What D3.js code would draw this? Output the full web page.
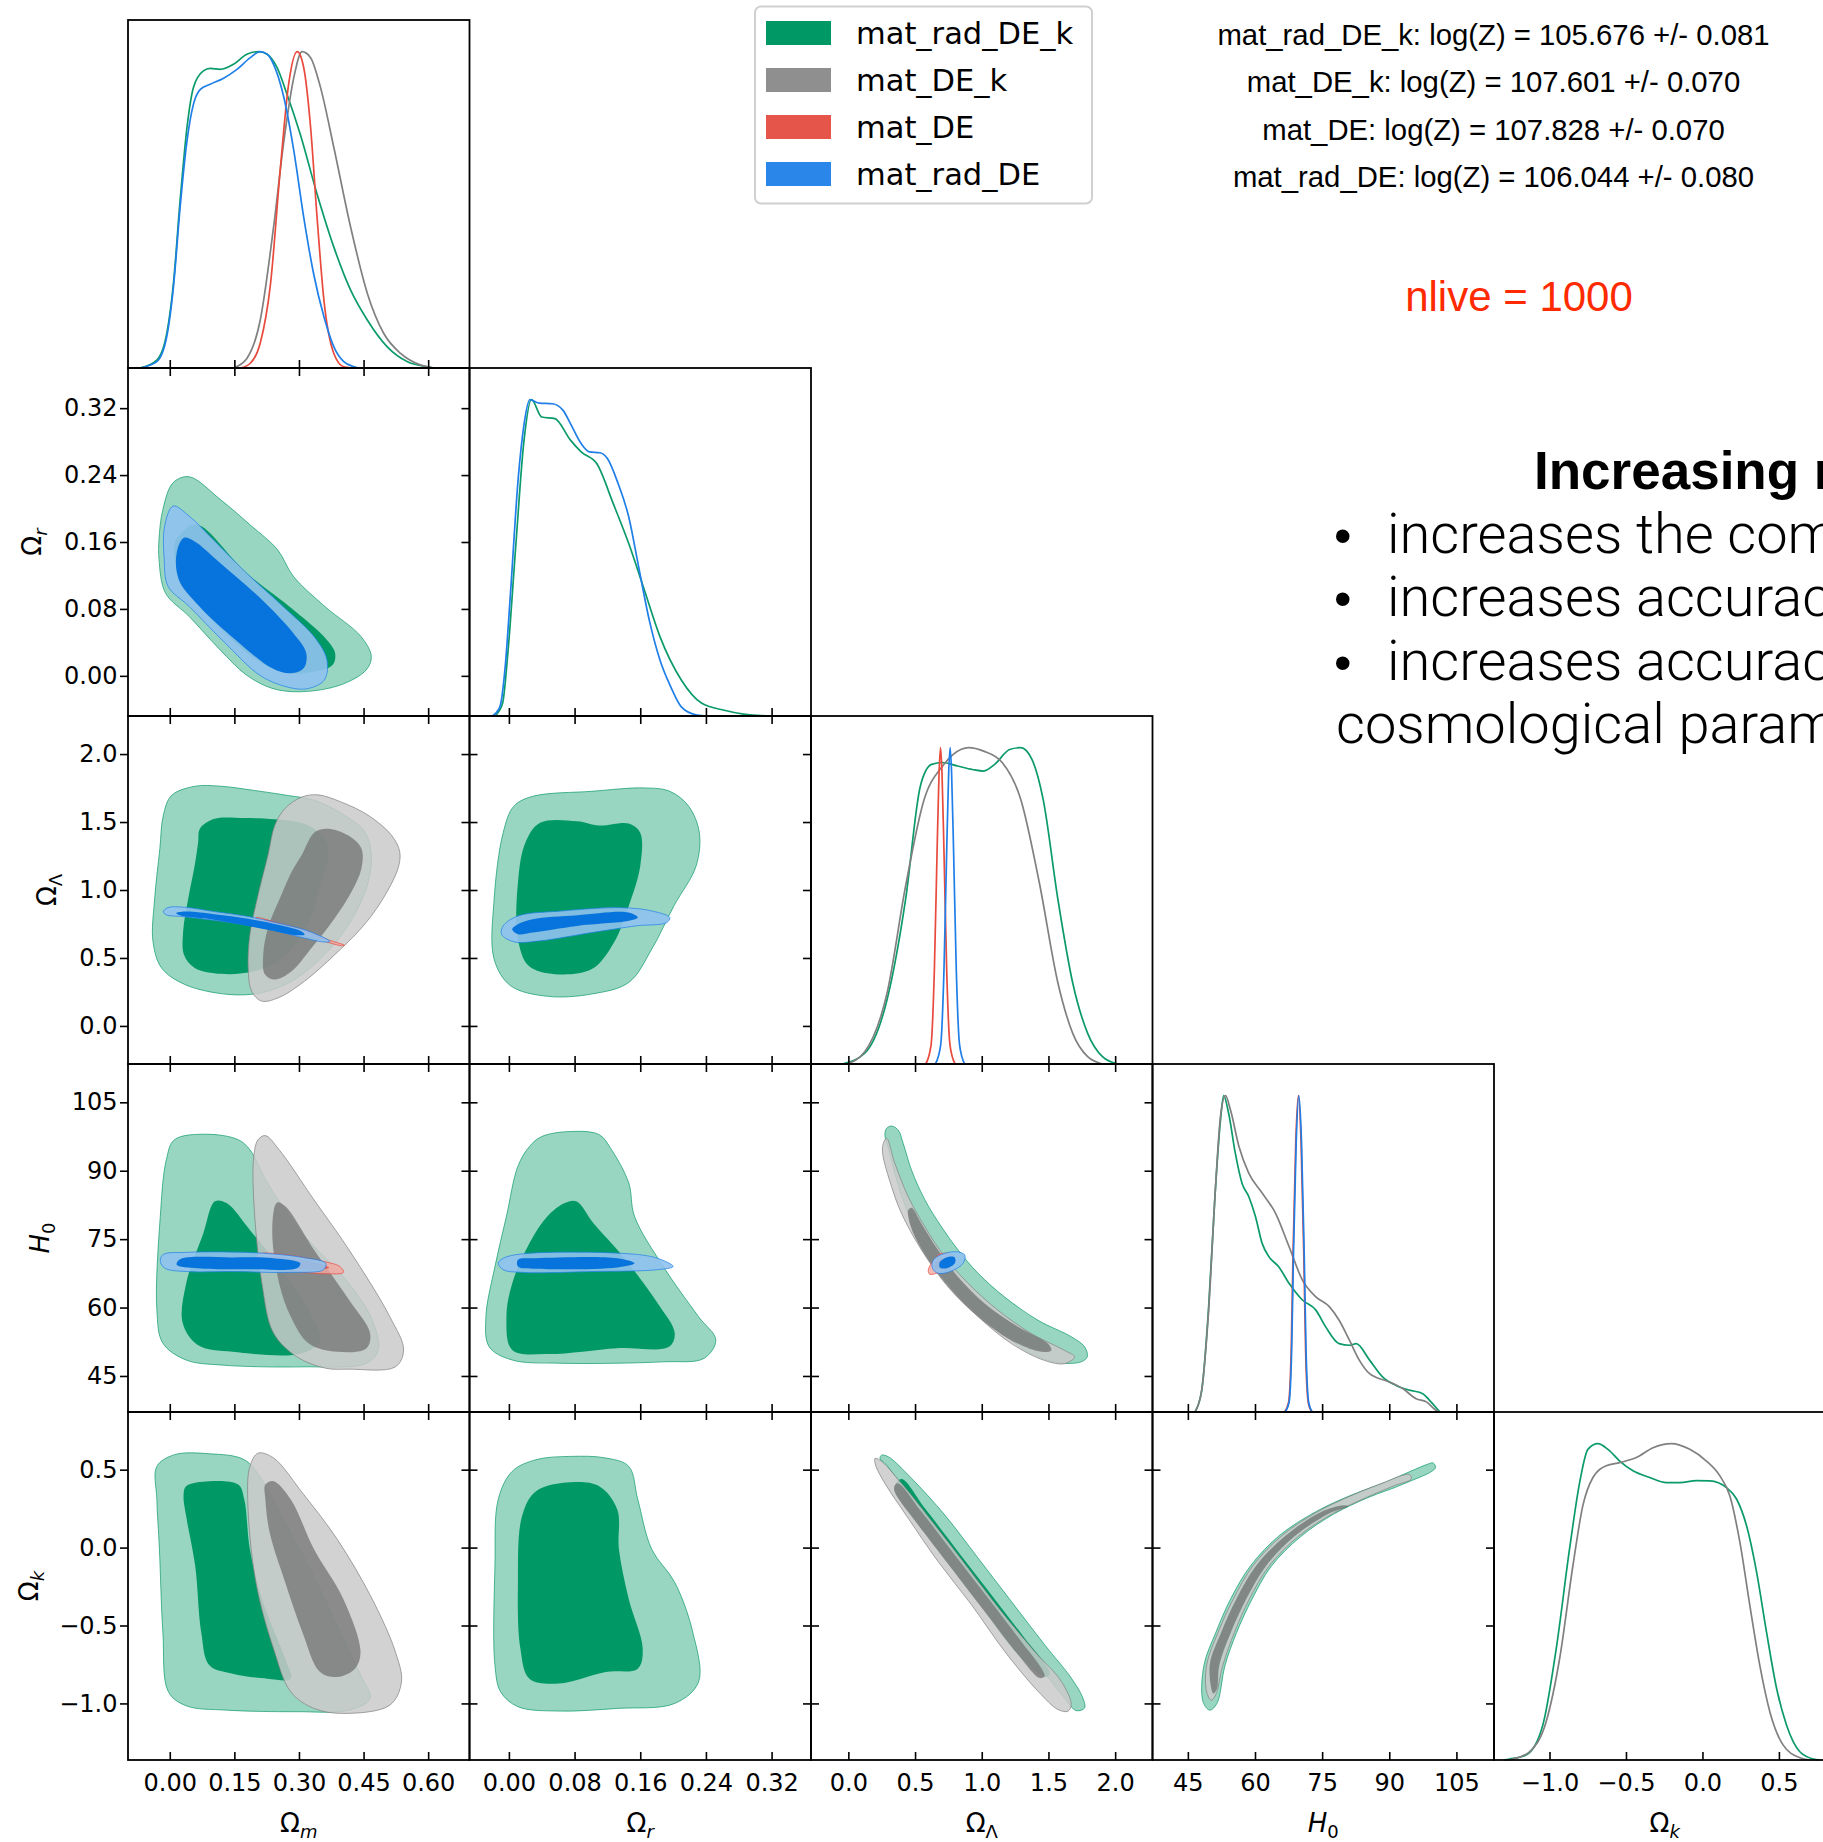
<!DOCTYPE html>
<html>
<head>
<meta charset="utf-8">
<script src="https://cdn.jsdelivr.net/npm/d3@7"></script>
<style>
  body { margin: 0; background: #fff; }
</style>
</head>
<body>
<div id="chart"></div>
<script>
// ---- parameters / axes ----
const paramDomains = [[-0.097, 0.696], [-0.048, 0.368], [-0.28, 2.28], [37.1, 113.4], [-1.363, 0.87]];
const paramTicks = [[0, 0.15, 0.30, 0.45, 0.60], [0, 0.08, 0.16, 0.24, 0.32], [0, 0.5, 1.0, 1.5, 2.0], [45, 60, 75, 90, 105], [-1.0, -0.5, 0.0, 0.5]];
const tickFormats = [".2f", ".2f", ".1f", "d", ".1f"];
const seriesNames = ["mat_rad_DE_k", "mat_DE_k", "mat_DE", "mat_rad_DE"];
const logZ = ["105.676", "107.601", "107.828", "106.044"];
const logZerr = ["0.081", "0.070", "0.070", "0.080"];

// ---- 1D marginals: [value, relative density] ----
const margOm_green = [[-0.069,0],[-0.030,0.025],[-0.007,0.109],[0.0085,0.267],[0.024,0.529],[0.040,0.761],[0.055,0.887],[0.078,0.939],[0.094,0.947],[0.117,0.944],[0.148,0.960],[0.179,0.992],[0.206,1.0],[0.226,0.992],[0.249,0.950],[0.272,0.866],[0.303,0.739],[0.342,0.550],[0.381,0.382],[0.420,0.246],[0.459,0.151],[0.505,0.067],[0.552,0.020],[0.598,0.004],[0.614,0]];
const margOm_gray = [[0.148,0],[0.179,0.030],[0.210,0.151],[0.241,0.445],[0.265,0.718],[0.288,0.918],[0.307,1.0],[0.327,0.981],[0.350,0.887],[0.381,0.697],[0.420,0.445],[0.459,0.235],[0.497,0.109],[0.536,0.046],[0.583,0.009],[0.614,0]];
const margOm_red = [[0.164,0],[0.187,0.015],[0.210,0.078],[0.234,0.267],[0.257,0.634],[0.276,0.897],[0.296,1.0],[0.311,0.950],[0.327,0.761],[0.342,0.477],[0.358,0.214],[0.381,0.046],[0.404,0.004],[0.428,0]];
const margOm_blue = [[-0.069,0],[-0.030,0.02],[-0.007,0.099],[0.0085,0.256],[0.024,0.508],[0.040,0.718],[0.055,0.834],[0.071,0.881],[0.094,0.897],[0.125,0.916],[0.156,0.944],[0.187,0.981],[0.210,1.0],[0.226,0.992],[0.241,0.960],[0.265,0.855],[0.288,0.687],[0.311,0.477],[0.334,0.298],[0.358,0.162],[0.381,0.067],[0.404,0.020],[0.428,0.004],[0.443,0]];

const margOr_green = [[-0.017,0],[-0.0077,0.04],[-0.0013,0.198],[0.0083,0.535],[0.018,0.861],[0.0275,1.0],[0.040,0.945],[0.056,0.940],[0.075,0.872],[0.088,0.835],[0.107,0.798],[0.127,0.672],[0.146,0.545],[0.165,0.398],[0.184,0.251],[0.210,0.114],[0.235,0.040],[0.261,0.019],[0.286,0.006],[0.318,0]];
const margOr_blue = [[-0.0204,0],[-0.011,0.029],[-0.0045,0.156],[0.0019,0.387],[0.0115,0.756],[0.018,0.914],[0.0256,1.0],[0.037,0.989],[0.053,0.987],[0.066,0.966],[0.075,0.924],[0.088,0.861],[0.098,0.835],[0.111,0.832],[0.120,0.814],[0.133,0.735],[0.146,0.629],[0.158,0.472],[0.171,0.303],[0.184,0.177],[0.197,0.093],[0.210,0.029],[0.229,0.003],[0.242,0]];

const margOL_green = [[-0.045,0],[0.123,0.034],[0.290,0.203],[0.429,0.520],[0.540,0.879],[0.624,0.947],[0.707,0.953],[0.819,0.942],[0.930,0.931],[1.014,0.926],[1.097,0.947],[1.209,0.994],[1.292,1.0],[1.376,0.963],[1.460,0.837],[1.571,0.520],[1.682,0.256],[1.794,0.097],[1.905,0.023],[2.017,0]];
const margOL_gray = [[-0.017,0],[0.123,0.039],[0.290,0.224],[0.429,0.562],[0.568,0.836],[0.707,0.942],[0.847,0.995],[0.902,1.0],[1.014,0.989],[1.153,0.953],[1.292,0.837],[1.432,0.572],[1.571,0.256],[1.682,0.097],[1.794,0.023],[1.905,0]];
const margOL_red = [[0.58,0],[0.62,0.06],[0.645,0.30],[0.665,0.67],[0.680,0.92],[0.691,1.0],[0.702,0.92],[0.717,0.67],[0.737,0.30],[0.762,0.06],[0.80,0]];
const margOL_blue = [[0.652,0],[0.692,0.06],[0.717,0.30],[0.737,0.67],[0.752,0.92],[0.763,1.0],[0.774,0.92],[0.789,0.67],[0.809,0.30],[0.834,0.06],[0.872,0]];

const margH0_green = [[46.6,0],[48.1,0.069],[49.6,0.322],[51.1,0.692],[52.3,0.924],[53.0,1.0],[54.1,0.945],[55.6,0.818],[57.1,0.723],[58.6,0.681],[60.1,0.618],[61.6,0.533],[63.1,0.491],[65.3,0.459],[67.6,0.407],[70.6,0.354],[73.6,0.322],[75.8,0.269],[78.8,0.216],[81.1,0.211],[82.6,0.216],[85.6,0.164],[88.5,0.111],[91.5,0.084],[94.5,0.069],[97.5,0.058],[99.0,0.037],[101.3,0]];
const margH0_gray = [[46.6,0],[48.1,0.069],[49.6,0.312],[51.1,0.692],[52.3,0.935],[53.4,1.0],[54.5,0.956],[56.4,0.840],[58.6,0.755],[61.6,0.692],[64.6,0.628],[67.6,0.523],[70.6,0.417],[73.6,0.364],[76.6,0.333],[78.8,0.290],[81.1,0.227],[83.3,0.164],[85.6,0.121],[90.0,0.095],[93.0,0.074],[96.0,0.042],[98.3,0.032],[100.5,0.005],[101.3,0]];
const margH0_red = [[66.6,0],[67.5,0.03],[68.1,0.2],[68.5,0.5],[69.1,0.85],[69.7,1.0],[70.3,0.85],[70.9,0.5],[71.3,0.2],[71.9,0.03],[72.7,0]];
const margH0_blue = [[66.7,0],[67.6,0.03],[68.2,0.2],[68.6,0.5],[69.2,0.85],[69.8,1.0],[70.4,0.85],[71.0,0.5],[71.4,0.2],[72.0,0.03],[72.8,0]];

const margOk_green = [[-1.30,0],[-1.262,0.003],[-1.153,0.016],[-1.044,0.110],[-0.956,0.352],[-0.869,0.667],[-0.803,0.877],[-0.749,0.982],[-0.683,1.0],[-0.618,0.982],[-0.541,0.945],[-0.454,0.914],[-0.345,0.893],[-0.236,0.877],[-0.148,0.877],[-0.039,0.883],[0.048,0.882],[0.157,0.861],[0.223,0.825],[0.288,0.741],[0.354,0.594],[0.419,0.404],[0.485,0.226],[0.550,0.110],[0.637,0.026],[0.725,0.003],[0.768,0]];
const margOk_gray = [[-1.28,0],[-1.240,0.003],[-1.131,0.026],[-1.022,0.121],[-0.934,0.320],[-0.847,0.614],[-0.782,0.804],[-0.716,0.893],[-0.629,0.930],[-0.541,0.940],[-0.432,0.956],[-0.323,0.987],[-0.203,1.0],[-0.083,0.982],[0.026,0.945],[0.114,0.898],[0.179,0.835],[0.245,0.688],[0.310,0.488],[0.375,0.299],[0.441,0.152],[0.528,0.047],[0.637,0.007],[0.703,0]];

// ---- 2D contours: [x value, y value], 95% (outer) and 68% (inner) ----
// Om vs Or
const cOmOr_g95 = [[0.045,0.238],[0.117,0.211],[0.19,0.179],[0.25,0.151],[0.287,0.119],[0.36,0.083],[0.444,0.047],[0.468,0.023],[0.456,0.007],[0.396,-0.011],[0.305,-0.019],[0.238,-0.015],[0.178,0.001],[0.117,0.031],[0.045,0.071],[-0.01,0.099],[-0.025,0.139],[-0.025,0.163],[-0.016,0.199],[0.008,0.231]];
const cOmOr_g68 = [[0.027,0.171],[0.063,0.181],[0.178,0.123],[0.287,0.079],[0.365,0.043],[0.384,0.027],[0.378,0.013],[0.335,0.005],[0.275,0.003],[0.214,0.015],[0.129,0.051],[0.057,0.091],[0.015,0.131],[0.012,0.159]];
const cOmOr_b95 = [[0.008,0.203],[0.045,0.191],[0.093,0.167],[0.178,0.123],[0.263,0.083],[0.335,0.047],[0.365,0.019],[0.359,-0.005],[0.323,-0.015],[0.287,-0.015],[0.214,-0.001],[0.129,0.039],[0.045,0.083],[-0.004,0.107],[-0.013,0.139],[-0.012,0.179]];
const cOmOr_b68 = [[0.033,0.165],[0.057,0.161],[0.117,0.135],[0.214,0.091],[0.287,0.051],[0.317,0.027],[0.311,0.009],[0.281,0.003],[0.238,0.009],[0.153,0.043],[0.069,0.083],[0.021,0.115],[0.016,0.147]];
// Om vs OL
const cOmOL_g95 = [[-0.015,1.549],[0.004,1.695],[0.058,1.763],[0.120,1.763],[0.197,1.732],[0.275,1.695],[0.337,1.659],[0.406,1.549],[0.453,1.427],[0.468,1.256],[0.461,1.061],[0.437,0.866],[0.399,0.671],[0.344,0.476],[0.283,0.329],[0.213,0.244],[0.135,0.232],[0.035,0.305],[-0.019,0.427],[-0.039,0.622],[-0.035,0.939],[-0.023,1.305]];
const cOmOL_g68 = [[0.070,1.451],[0.104,1.524],[0.174,1.529],[0.244,1.520],[0.321,1.476],[0.364,1.354],[0.368,1.232],[0.352,1.061],[0.329,0.817],[0.298,0.622],[0.252,0.476],[0.197,0.402],[0.120,0.383],[0.058,0.427],[0.033,0.524],[0.031,0.695],[0.043,0.939],[0.058,1.183],[0.066,1.354]];
const cOmOL_k95 = [[0.267,1.598],[0.306,1.683],[0.344,1.700],[0.399,1.646],[0.461,1.549],[0.515,1.402],[0.534,1.281],[0.530,1.159],[0.491,0.915],[0.445,0.720],[0.383,0.524],[0.313,0.329],[0.252,0.207],[0.213,0.183],[0.190,0.256],[0.182,0.427],[0.186,0.671],[0.205,0.963],[0.228,1.256],[0.244,1.476]];
const cOmOL_k68 = [[0.306,1.256],[0.337,1.427],[0.368,1.451],[0.414,1.402],[0.445,1.305],[0.445,1.159],[0.422,0.988],[0.383,0.793],[0.329,0.573],[0.283,0.402],[0.244,0.341],[0.221,0.378],[0.217,0.524],[0.228,0.720],[0.259,0.963],[0.283,1.134]];
const cOmOL_r95 = [[0.201,0.798],[0.252,0.756],[0.321,0.695],[0.368,0.634],[0.406,0.593],[0.399,0.590],[0.360,0.622],[0.306,0.680],[0.244,0.740],[0.201,0.788]];
const cOmOL_r68 = [[0.22,0.785],[0.28,0.73],[0.33,0.68],[0.36,0.645],[0.355,0.64],[0.32,0.675],[0.27,0.728],[0.22,0.78]];
const cOmOL_b95 = [[-0.015,0.841],[-0.004,0.871],[0.035,0.873],[0.104,0.841],[0.182,0.805],[0.252,0.756],[0.313,0.707],[0.360,0.646],[0.372,0.622],[0.360,0.617],[0.313,0.646],[0.252,0.695],[0.174,0.744],[0.097,0.780],[0.027,0.805],[-0.008,0.817]];
const cOmOL_b68 = [[0.015,0.829],[0.035,0.841],[0.104,0.822],[0.182,0.788],[0.252,0.744],[0.306,0.695],[0.313,0.671],[0.283,0.671],[0.228,0.707],[0.159,0.749],[0.089,0.788],[0.027,0.810]];
// Or vs OL
const cOrOL_g95 = [[0.029,1.689],[0.101,1.726],[0.165,1.751],[0.196,1.726],[0.219,1.616],[0.232,1.421],[0.228,1.176],[0.201,0.883],[0.174,0.565],[0.146,0.320],[0.101,0.235],[0.047,0.218],[0.002,0.296],[-0.018,0.491],[-0.018,0.932],[-0.007,1.421],[0.006,1.616]];
const cOrOL_g68 = [[0.038,1.494],[0.083,1.506],[0.110,1.474],[0.146,1.489],[0.160,1.421],[0.160,1.176],[0.146,0.883],[0.128,0.614],[0.101,0.418],[0.056,0.381],[0.024,0.443],[0.011,0.638],[0.011,1.054],[0.020,1.347]];
const cOrOL_b95 = [[-0.007,0.736],[0.011,0.809],[0.065,0.846],[0.137,0.870],[0.174,0.846],[0.196,0.797],[0.192,0.760],[0.155,0.736],[0.101,0.687],[0.038,0.626],[0.006,0.619],[-0.009,0.675]];
const cOrOL_b68 = [[0.011,0.748],[0.029,0.785],[0.083,0.814],[0.146,0.834],[0.157,0.797],[0.146,0.773],[0.083,0.736],[0.029,0.687],[0.011,0.675],[0.004,0.711]];
// Om vs H0
const cOmH0_g95 = [[0.011,96.8],[0.086,98.0],[0.159,96.8],[0.186,94.6],[0.227,87.3],[0.308,76.3],[0.416,65.3],[0.470,57.3],[0.484,50.7],[0.457,47.8],[0.308,47.0],[0.119,47.4],[0.038,48.5],[-0.016,52.2],[-0.030,59.5],[-0.022,80.0],[-0.008,92.4]];
const cOmH0_g68 = [[0.105,83.3],[0.132,82.9],[0.186,77.0],[0.254,69.0],[0.322,59.5],[0.349,52.9],[0.308,50.0],[0.146,50.3],[0.065,51.8],[0.030,56.6],[0.038,65.3],[0.078,76.3]];
const cOmH0_k95 = [[0.205,96.8],[0.222,97.7],[0.254,94.6],[0.335,83.6],[0.416,72.7],[0.511,58.0],[0.543,50.7],[0.524,47.0],[0.416,46.5],[0.362,46.7],[0.295,49.2],[0.241,54.4],[0.214,65.3],[0.195,83.6],[0.195,93.1]];
const cOmH0_k68 = [[0.249,83.0],[0.268,82.2],[0.335,72.7],[0.416,61.7],[0.465,54.4],[0.457,51.1],[0.389,50.3],[0.322,52.2],[0.281,58.0],[0.254,65.3],[0.238,77.0]];
const cOmH0_r95 = [[0.205,71.7],[0.268,71.6],[0.335,70.5],[0.395,69.0],[0.403,67.7],[0.362,67.4],[0.295,67.9],[0.227,69.0],[0.200,70.5]];
const cOmH0_r68 = [[0.23,71.0],[0.28,70.8],[0.34,69.8],[0.37,68.7],[0.34,68.3],[0.28,68.6],[0.23,69.6]];
const cOmH0_b95 = [[-0.016,71.6],[0.038,72.1],[0.200,72.0],[0.308,71.0],[0.362,69.7],[0.357,68.3],[0.281,67.7],[0.146,67.9],[0.038,67.9],[-0.011,68.6],[-0.022,70.1]];
const cOmH0_b68 = [[0.024,70.6],[0.146,71.0],[0.241,70.8],[0.303,69.7],[0.295,68.6],[0.200,68.4],[0.065,68.6],[0.016,69.4]];
// Or vs H0
const cOrH0_g95 = [[0.040,97.5],[0.075,98.6],[0.110,97.9],[0.125,94.6],[0.146,87.3],[0.153,80.0],[0.188,69.0],[0.231,58.0],[0.252,52.9],[0.238,48.9],[0.188,48.1],[0.061,47.8],[0.004,48.5],[-0.024,51.4],[-0.028,58.0],[-0.017,69.0],[-0.003,80.0],[0.011,91.0],[0.025,95.3]];
const cOrH0_g68 = [[0.068,82.9],[0.082,83.3],[0.103,78.5],[0.139,71.2],[0.181,61.0],[0.202,54.4],[0.195,51.4],[0.132,51.1],[0.047,49.8],[0.004,50.7],[-0.003,58.0],[0.004,65.3],[0.025,74.1],[0.047,80.0]];
const cOrH0_b95 = [[-0.007,70.8],[0.018,71.8],[0.146,71.8],[0.181,70.8],[0.200,69.0],[0.181,68.3],[0.103,67.9],[0.018,67.7],[-0.007,68.3],[-0.013,69.7]];
const cOrH0_b68 = [[0.011,70.5],[0.033,70.8],[0.132,70.8],[0.153,69.7],[0.132,68.8],[0.033,68.5],[0.011,69.0]];
// OL vs H0
const cOLH0_g95 = [[0.287,99.3],[0.324,99.8],[0.374,98.9],[0.411,96.0],[0.474,90.1],[0.574,83.6],[0.698,77.7],[0.823,72.6],[0.973,67.5],[1.172,62.3],[1.422,57.2],[1.671,53.6],[1.771,51.4],[1.791,49.2],[1.746,48.1],[1.571,47.9],[1.372,49.9],[1.122,55.0],[0.898,60.9],[0.723,66.7],[0.574,73.3],[0.449,80.6],[0.362,88.0],[0.304,94.5],[0.274,97.8]];
const cOLH0_g68 = [[0.458,81.0],[0.478,81.4],[0.551,78.0],[0.675,72.3],[0.823,66.4],[1.020,60.7],[1.268,55.7],[1.485,52.2],[1.505,51.0],[1.445,50.7],[1.222,53.1],[0.975,58.3],[0.776,64.1],[0.603,70.6],[0.504,75.6],[0.462,79.0]];
const cOLH0_k95 = [[0.262,96.0],[0.287,97.1],[0.349,91.6],[0.449,84.3],[0.574,77.7],[0.723,71.1],[0.898,65.3],[1.122,59.4],[1.372,54.3],[1.621,50.6],[1.696,49.2],[1.621,47.7],[1.471,48.4],[1.222,52.1],[0.973,58.0],[0.748,64.5],[0.549,72.6],[0.399,80.6],[0.324,86.5],[0.257,93.8]];
const cOLH0_k68 = [[0.449,81.4],[0.474,81.9],[0.549,78.4],[0.673,72.6],[0.823,66.7],[1.022,60.9],[1.272,55.8],[1.496,52.1],[1.521,50.6],[1.446,50.3],[1.222,52.8],[0.973,58.0],[0.773,63.8],[0.599,70.4],[0.499,75.5],[0.454,79.2]];
const cOLH0_r95 = [[0.599,68.2],[0.673,71.5],[0.748,71.9],[0.798,71.1],[0.773,69.3],[0.686,67.8],[0.611,67.3]];
const cOLH0_r68 = [[0.64,69.0],[0.69,70.8],[0.75,71.0],[0.76,70.2],[0.70,68.6],[0.65,68.3]];
const cOLH0_b95 = [[0.636,70.4],[0.723,71.9],[0.823,72.2],[0.873,71.5],[0.860,69.7],[0.773,68.0],[0.673,67.5],[0.631,68.6]];
const cOLH0_b68 = [[0.686,70.0],[0.748,71.1],[0.798,71.0],[0.798,69.7],[0.736,68.6],[0.686,68.8]];
// Om vs Ok
const cOmOk_g95 = [[-0.030,0.521],[0.011,0.596],[0.092,0.602],[0.173,0.564],[0.214,0.436],[0.268,0.160],[0.322,-0.117],[0.389,-0.500],[0.443,-0.819],[0.465,-0.968],[0.416,-1.043],[0.295,-1.053],[0.132,-1.043],[0.038,-1.015],[-0.003,-0.926],[-0.016,-0.543],[-0.024,-0.011],[-0.030,0.309]];
const cOmOk_g68 = [[0.038,0.394],[0.092,0.426],[0.159,0.404],[0.173,0.309],[0.186,-0.011],[0.214,-0.330],[0.268,-0.713],[0.281,-0.841],[0.227,-0.841],[0.146,-0.809],[0.092,-0.755],[0.073,-0.543],[0.059,-0.117],[0.038,0.202],[0.032,0.330]];
const cOmOk_k95 = [[0.186,0.521],[0.205,0.606],[0.241,0.575],[0.308,0.351],[0.389,0.053],[0.470,-0.330],[0.524,-0.670],[0.538,-0.862],[0.511,-1.011],[0.403,-1.064],[0.335,-1.032],[0.281,-0.926],[0.241,-0.649],[0.200,-0.223],[0.181,0.309]];
const cOmOk_k68 = [[0.222,0.404],[0.241,0.426],[0.281,0.309],[0.335,-0.011],[0.403,-0.330],[0.443,-0.670],[0.430,-0.777],[0.389,-0.830],[0.349,-0.798],[0.308,-0.543],[0.268,-0.223],[0.232,0.096],[0.222,0.309]];
// Or vs Ok
const cOrOk_g95 = [[0.004,0.489],[0.033,0.564],[0.075,0.585],[0.118,0.575],[0.146,0.521],[0.157,0.309],[0.174,-0.011],[0.202,-0.223],[0.224,-0.543],[0.231,-0.862],[0.202,-1.000],[0.132,-1.032],[0.061,-1.049],[0.011,-1.021],[-0.010,-0.926],[-0.017,-0.755],[-0.017,-0.117],[-0.013,0.309]];
const cOrOk_g68 = [[0.033,0.362],[0.075,0.419],[0.110,0.394],[0.132,0.245],[0.134,-0.011],[0.146,-0.330],[0.163,-0.649],[0.157,-0.777],[0.118,-0.798],[0.061,-0.872],[0.025,-0.841],[0.014,-0.649],[0.011,-0.223],[0.016,0.202]];
// OL vs Ok
const cOLOk_g95 = [[0.249,0.593],[0.299,0.583],[0.474,0.444],[0.723,0.209],[0.973,-0.068],[1.222,-0.346],[1.471,-0.623],[1.671,-0.837],[1.758,-0.965],[1.771,-1.029],[1.708,-1.046],[1.621,-0.965],[1.422,-0.751],[1.172,-0.474],[0.923,-0.196],[0.673,0.081],[0.449,0.337],[0.287,0.529],[0.237,0.572]];
const cOLOk_g68 = [[0.352,0.405],[0.40,0.44],[0.574,0.252],[0.823,-0.026],[1.072,-0.303],[1.322,-0.581],[1.496,-0.773],[1.508,-0.815],[1.471,-0.83],[1.272,-0.687],[1.022,-0.410],[0.773,-0.132],[0.524,0.145],[0.374,0.316],[0.344,0.369]];
const cOLOk_k95 = [[0.200,0.572],[0.237,0.561],[0.399,0.412],[0.648,0.145],[0.898,-0.132],[1.147,-0.410],[1.396,-0.666],[1.596,-0.858],[1.671,-1.007],[1.646,-1.050],[1.571,-1.039],[1.422,-0.922],[1.172,-0.666],[0.923,-0.367],[0.673,-0.090],[0.449,0.188],[0.274,0.412],[0.204,0.529]];
const cOLOk_k68 = [[0.349,0.401],[0.374,0.412],[0.549,0.230],[0.798,-0.047],[1.047,-0.324],[1.296,-0.602],[1.446,-0.773],[1.471,-0.826],[1.434,-0.837],[1.272,-0.687],[1.022,-0.410],[0.773,-0.132],[0.524,0.145],[0.374,0.316],[0.344,0.369]];
// H0 vs Ok (thin curved band)
const cH0Ok_g95 = [[49.9,-1.043],[48.4,-0.990],[48.6,-0.754],[51.3,-0.541],[54.6,-0.327],[59.1,-0.113],[65.6,0.081],[73.7,0.232],[81.7,0.339],[89.5,0.424],[98.5,0.534],[99.8,0.543],[100.3,0.511],[93.0,0.406],[85.2,0.320],[77.6,0.215],[70.1,0.068],[63.6,-0.121],[59.3,-0.333],[55.9,-0.545],[53.3,-0.757],[51.5,-1.000]];
const cH0Ok_g68 = [[50.7,-0.940],[49.8,-0.755],[52.4,-0.542],[55.8,-0.327],[60.2,-0.115],[66.8,0.078],[74.6,0.228],[79.5,0.272],[80.9,0.267],[76.7,0.219],[68.9,0.071],[62.5,-0.120],[58.1,-0.332],[54.7,-0.545],[52.1,-0.757],[51.6,-0.906]];
const cH0Ok_k95 = [[50.2,-0.979],[49.2,-0.926],[49.2,-0.754],[51.8,-0.541],[55.2,-0.328],[59.6,-0.114],[66.1,0.079],[74.0,0.230],[81.9,0.338],[88.6,0.415],[93.3,0.466],[94.6,0.468],[94.9,0.440],[91.2,0.398],[84.9,0.322],[77.3,0.217],[69.6,0.070],[63.1,-0.120],[58.7,-0.332],[55.4,-0.544],[52.8,-0.757],[51.2,-0.947]];
const cH0Ok_k68 = [[50.7,-0.936],[49.9,-0.755],[52.5,-0.542],[55.9,-0.327],[60.3,-0.115],[66.9,0.077],[74.7,0.227],[79.5,0.270],[80.8,0.266],[76.6,0.220],[68.8,0.072],[62.4,-0.119],[58.0,-0.332],[54.6,-0.544],[52.0,-0.756],[51.5,-0.904]];

// ---- which array goes where (param index, series index) ----
const marginals = [
  [0, 0, margOm_green], [0, 1, margOm_gray], [0, 2, margOm_red], [0, 3, margOm_blue],
  [1, 0, margOr_green], [1, 3, margOr_blue],
  [2, 0, margOL_green], [2, 1, margOL_gray], [2, 2, margOL_red], [2, 3, margOL_blue],
  [3, 0, margH0_green], [3, 1, margH0_gray], [3, 2, margH0_red], [3, 3, margH0_blue],
  [4, 0, margOk_green], [4, 1, margOk_gray]
];
// [x param, y param, series, 95% contour, 68% contour]
const contours = [
  [0, 1, 0, cOmOr_g95, cOmOr_g68], [0, 1, 3, cOmOr_b95, cOmOr_b68],
  [0, 2, 0, cOmOL_g95, cOmOL_g68], [0, 2, 1, cOmOL_k95, cOmOL_k68], [0, 2, 2, cOmOL_r95, cOmOL_r68], [0, 2, 3, cOmOL_b95, cOmOL_b68],
  [1, 2, 0, cOrOL_g95, cOrOL_g68], [1, 2, 3, cOrOL_b95, cOrOL_b68],
  [0, 3, 0, cOmH0_g95, cOmH0_g68], [0, 3, 1, cOmH0_k95, cOmH0_k68], [0, 3, 2, cOmH0_r95, cOmH0_r68], [0, 3, 3, cOmH0_b95, cOmH0_b68],
  [1, 3, 0, cOrH0_g95, cOrH0_g68], [1, 3, 3, cOrH0_b95, cOrH0_b68],
  [2, 3, 0, cOLH0_g95, cOLH0_g68], [2, 3, 1, cOLH0_k95, cOLH0_k68], [2, 3, 2, cOLH0_r95, cOLH0_r68], [2, 3, 3, cOLH0_b95, cOLH0_b68],
  [0, 4, 0, cOmOk_g95, cOmOk_g68], [0, 4, 1, cOmOk_k95, cOmOk_k68],
  [1, 4, 0, cOrOk_g95, cOrOk_g68],
  [2, 4, 0, cOLOk_g95, cOLOk_g68], [2, 4, 1, cOLOk_k95, cOLOk_k68],
  [3, 4, 0, cH0Ok_g95, cH0Ok_g68], [3, 4, 1, cH0Ok_k95, cH0Ok_k68]
];

// ---- styles ----
const lineColors = ["#0b9a6a", "#808080", "#e84a3c", "#1f7fe8"];
const swatchColors = ["#009966", "#8f8f8f", "#e6554a", "#2b86ea"];
const fill95 = ["rgb(153,214,194)", "rgba(202,202,202,0.85)", "rgba(242,168,160,0.8)", "rgba(144,194,238,0.9)"];
const fill68 = ["rgb(0,153,102)", "rgba(115,115,115,0.75)", "rgba(230,85,74,0.9)", "rgba(0,112,220,0.95)"];
const yTitleX = [0, 41, 56, 49, 38];

const W = 341.5, H = 348, X0 = 128, Y0 = 20;

const svg = d3.select("#chart").append("svg")
  .attr("width", 1823).attr("height", 1842)
  .style("font-family", "DejaVu Sans");
svg.append("rect").attr("width", 1823).attr("height", 1842).attr("fill", "#fff");

const xS = paramDomains.map((d, i) => d3.scaleLinear().domain(d).range([X0 + i * W, X0 + (i + 1) * W]));
const yS = paramDomains.map((d, j) => d3.scaleLinear().domain(d).range([Y0 + (j + 1) * H, Y0 + j * H]));
const yM = paramDomains.map((d, j) => d3.scaleLinear().domain([0, 1.1]).range([Y0 + (j + 1) * H, Y0 + j * H]));

// filled contours
const plotG = svg.append("g");
contours.forEach(([xi, yi, s, c95, c68]) => {
  const line = d3.line().x(d => xS[xi](d[0])).y(d => yS[yi](d[1])).curve(d3.curveCatmullRomClosed.alpha(0.5));
  plotG.append("path").attr("d", line(c95))
    .attr("fill", fill95[s]).attr("stroke", lineColors[s]).attr("stroke-width", 1).attr("stroke-opacity", 0.7);
  plotG.append("path").attr("d", line(c68))
    .attr("fill", fill68[s]).attr("stroke", "none");
});

// marginal lines
marginals.forEach(([p, s, pts]) => {
  const line = d3.line().x(d => xS[p](d[0])).y(d => yM[p](d[1])).curve(d3.curveMonotoneX);
  plotG.append("path").attr("d", line(pts))
    .attr("fill", "none").attr("stroke", lineColors[s]).attr("stroke-width", 1.7);
});

// ticks
function drawAxis(axis, tx, ty) {
  const g = svg.append("g").attr("transform", `translate(${tx},${ty})`).call(axis)
    .attr("font-size", 24).attr("font-family", "DejaVu Sans");
  g.select(".domain").remove();
  g.selectAll(".tick line").attr("stroke", "#000").attr("stroke-width", 1.6);
  g.selectAll(".tick text").attr("fill", "#000");
  return g;
}
for (let j = 0; j < 5; j++) {
  for (let i = 0; i <= j; i++) {
    const left = X0 + i * W, right = left + W, top = Y0 + j * H, bottom = top + H;
    const fx = j === 4 ? d3.format(tickFormats[i]) : () => "";
    drawAxis(d3.axisBottom(xS[i]).tickValues(paramTicks[i]).tickSizeInner(-8).tickSizeOuter(0).tickPadding(14).tickFormat(fx), 0, bottom);
    if (i < j) {
      drawAxis(d3.axisTop(xS[i]).tickValues(paramTicks[i]).tickSizeInner(-8).tickSizeOuter(0).tickFormat(() => ""), 0, top);
      drawAxis(d3.axisRight(yS[j]).tickValues(paramTicks[j]).tickSizeInner(-8).tickSizeOuter(0).tickFormat(() => ""), right, 0);
      if (i === 0) {
        drawAxis(d3.axisLeft(yS[j]).tickValues(paramTicks[j]).tickSizeInner(8).tickSizeOuter(0).tickPadding(2.5).tickFormat(d3.format(tickFormats[j])), left, 0);
      } else {
        drawAxis(d3.axisLeft(yS[j]).tickValues(paramTicks[j]).tickSizeInner(-8).tickSizeOuter(0).tickFormat(() => ""), left, 0);
      }
    }
    svg.append("rect").attr("x", left).attr("y", top).attr("width", W).attr("height", H)
      .attr("fill", "none").attr("stroke", "#000").attr("stroke-width", 1.8);
  }
}

// axis titles
const axisTitles = [["Ω", "m", true, false], ["Ω", "r", true, false], ["Ω", "Λ", false, false], ["H", "0", false, true], ["Ω", "k", true, false]];
function writeTitle(t, [main, sub, subItalic, mainItalic]) {
  t.append("tspan").text(main).attr("font-style", mainItalic ? "italic" : "normal");
  t.append("tspan").text(sub).attr("font-size", 18).attr("dy", 6)
    .attr("font-style", subItalic ? "italic" : "normal");
}
axisTitles.forEach((a, i) => {
  const t = svg.append("text").attr("x", X0 + i * W + W / 2).attr("y", 1832)
    .attr("text-anchor", "middle").attr("font-size", 26).attr("fill", "#000");
  writeTitle(t, a);
  if (i > 0) {
    const cy = Y0 + i * H + H / 2;
    const tl = svg.append("text").attr("transform", `translate(${yTitleX[i]},${cy}) rotate(-90)`)
      .attr("text-anchor", "middle").attr("font-size", 26).attr("fill", "#000");
    writeTitle(tl, a);
  }
});

// legend
const leg = svg.append("g");
leg.append("rect").attr("x", 755).attr("y", 6.5).attr("width", 337).attr("height", 197).attr("rx", 6)
  .attr("fill", "#fff").attr("stroke", "#d0d0d0").attr("stroke-width", 2);
seriesNames.forEach((n, k) => {
  leg.append("rect").attr("x", 766).attr("y", 21 + k * 47).attr("width", 65).attr("height", 24).attr("fill", swatchColors[k]);
  leg.append("text").attr("x", 856).attr("y", 44 + k * 47).attr("font-size", 30.5).attr("fill", "#000").text(n);
});

// evidence text
seriesNames.forEach((n, k) => {
  svg.append("text").attr("x", 1493.5).attr("y", 44.5 + k * 47.5).attr("text-anchor", "middle")
    .attr("font-family", "Liberation Sans, Arial, sans-serif").attr("font-size", 29.3).attr("fill", "#000")
    .text(`${n}: log(Z) = ${logZ[k]} +/- ${logZerr[k]}`);
});
svg.append("text").attr("x", 1519).attr("y", 311).attr("text-anchor", "middle")
  .attr("font-family", "Liberation Sans, Arial, sans-serif").attr("font-size", 42).attr("fill", "#ff2a00")
  .text("nlive = 1000");

// slide text on the right
svg.append("text").attr("x", 1534).attr("y", 489)
  .attr("font-family", "Liberation Sans, Arial, sans-serif").attr("font-weight", "bold").attr("font-size", 53).attr("fill", "#000")
  .text("Increasing nlive");
const bulletLines = ["increases the computational time", "increases accuracy of log(Z)", "increases accuracy of the"];
bulletLines.forEach((b, k) => {
  svg.append("text").attr("x", 1334).attr("y", 553 + k * 63.3)
    .attr("font-family", "Liberation Sans, Arial, sans-serif").attr("font-size", 50).attr("fill", "#000")
    .text("•");
  svg.append("text").attr("x", 1387).attr("y", 553 + k * 63.3)
    .attr("font-family", "Roboto, Liberation Sans, sans-serif").attr("font-weight", 300).attr("font-size", 56).attr("fill", "#000")
    .text(b);
});
svg.append("text").attr("x", 1336).attr("y", 743)
  .attr("font-family", "Roboto, Liberation Sans, sans-serif").attr("font-weight", 300).attr("font-size", 56).attr("fill", "#000")
  .text("cosmological parameters");
</script>
</body>
</html>
